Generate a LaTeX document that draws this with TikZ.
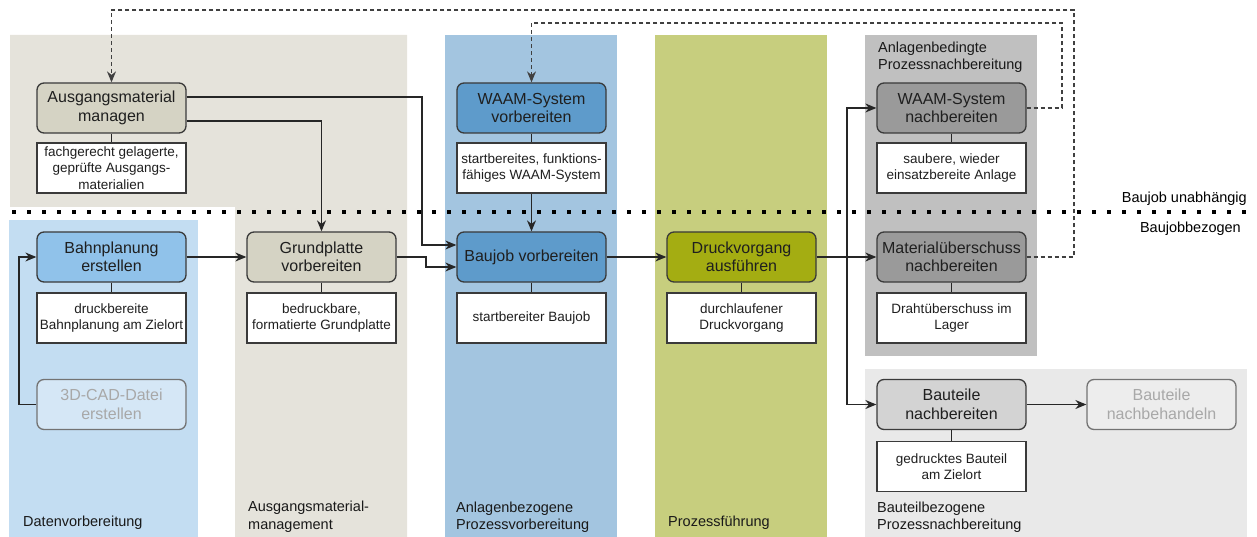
\documentclass[tikz,border=0pt]{standalone}
\usepackage{fontspec}
\setmainfont{Liberation Sans}
\usetikzlibrary{arrows.meta}
\definecolor{laneBeige}{HTML}{E5E3DB}
\definecolor{laneDaten}{HTML}{C3DDF2}
\definecolor{laneAnlage}{HTML}{A3C5E0}
\definecolor{laneGreen}{HTML}{C7CE7E}
\definecolor{laneGray}{HTML}{C0C0C0}
\definecolor{laneLight}{HTML}{E9E9E9}
\definecolor{boxBeige}{HTML}{D5D3C4}
\definecolor{boxLightBlue}{HTML}{90C2EA}
\definecolor{boxPaleBlue}{HTML}{D5E7F6}
\definecolor{boxBlue}{HTML}{5E9BCB}
\definecolor{boxOlive}{HTML}{A4AD12}
\definecolor{boxGray}{HTML}{9A9A9A}
\definecolor{boxLightGray}{HTML}{D3D3D3}
\definecolor{boxPale}{HTML}{EDEDED}
\definecolor{lineCol}{HTML}{262626}
\definecolor{fadedText}{HTML}{A8A8A8}
\definecolor{borderCol}{HTML}{3A3A3A}
\begin{document}
\begin{tikzpicture}[x=1pt,y=-1pt,
  mainbox/.style={draw=borderCol, line width=1.3pt, rounded corners=7pt,
    minimum width=149pt, minimum height=50pt, inner sep=1pt, align=center,
    font=\fontsize{16}{18.5}\selectfont, text=black!88},
  fadedbox/.style={mainbox, draw=black!55, text=fadedText},
  resbox/.style={draw=borderCol, line width=1.3pt, fill=white,
    minimum width=149pt, minimum height=50pt, inner sep=2pt, align=center,
    font=\fontsize{13.5}{16.5}\selectfont, text=black!88},
  lanelabel/.style={anchor=west, align=left, inner sep=0pt,
    font=\fontsize{14.5}{17.5}\selectfont, text=black!90},
  conn/.style={draw=lineCol, line width=1.2pt, -{Stealth[length=11pt,width=9pt]}},
  plainconn/.style={draw=lineCol, line width=1.2pt},
  fb/.style={draw=black!75, line width=1.2pt, dash pattern=on 4pt off 3pt, -{Stealth[length=11pt,width=9pt]}},
  sep/.style={draw=black, line width=3.6pt, dash pattern=on 3.6pt off 11.4pt}
]
\useasboundingbox (0,0) rectangle (1257,537);

% lanes
\fill[laneBeige] (10,35) -- (407,35) -- (407,537) -- (235,537) -- (235,207) -- (10,207) -- cycle;
\fill[laneDaten] (9,220) rectangle (198,537);
\fill[laneAnlage] (445,35) rectangle (617,537);
\fill[laneGreen] (655,35) rectangle (827,537);
\fill[laneGray] (865,35) rectangle (1037,356);
\fill[laneLight] (865,369) rectangle (1247,537);

% separator
\coordinate (sepL) at (12,212);
\coordinate (sepR) at (1250,212);
\draw[sep] (sepL) -- (sepR);
\node[anchor=east, inner sep=0pt, font=\fontsize{14.5}{17.5}\selectfont] (lbU) at (1247,199) {Baujob unabhängig};
\node[anchor=east, inner sep=0pt, font=\fontsize{14.5}{17.5}\selectfont] (lbB) at (1241,229) {Baujobbezogen};

% lane labels
\node[lanelabel] (l1) at (23,523) {Datenvorbereitung};
\node[lanelabel] (l2) at (248,516.5) {Ausgangsmaterial-\\management};
\node[lanelabel] (l3) at (456,517) {Anlagenbezogene\\Prozessvorbereitung};
\node[lanelabel] (l4) at (668,523) {Prozessführung};
\node[lanelabel] (l5) at (877,517) {Bauteilbezogene\\Prozessnachbereitung};
\node[lanelabel] (l6) at (878,57.5) {Anlagenbedingte\\Prozessnachbereitung};

% main boxes
\node[mainbox, fill=boxBeige] (am) at (111.5,108) {Ausgangsmaterial\\managen};
\node[resbox] (amr) at (111.5,168) {fachgerecht gelagerte,\\geprüfte Ausgangs-\\materialien};
\node[mainbox, fill=boxBlue] (wv) at (531.5,108) {WAAM-System\\vorbereiten};
\node[resbox] (wvr) at (531.5,168) {startbereites, funktions-\\fähiges WAAM-System};
\node[mainbox, fill=boxGray] (wn) at (951.5,108) {WAAM-System\\nachbereiten};
\node[resbox] (wnr) at (951.5,168) {saubere, wieder\\einsatzbereite Anlage};

\node[mainbox, fill=boxLightBlue] (bp) at (111.5,257) {Bahnplanung\\erstellen};
\node[resbox] (bpr) at (111.5,318) {druckbereite\\Bahnplanung am Zielort};
\node[fadedbox, fill=boxPaleBlue] (cad) at (111.5,404.5) {3D-CAD-Datei\\erstellen};
\node[mainbox, fill=boxBeige] (gp) at (321.5,257) {Grundplatte\\vorbereiten};
\node[resbox] (gpr) at (321.5,318) {bedruckbare,\\formatierte Grundplatte};
\node[mainbox, fill=boxBlue] (bj) at (531.5,257) {Baujob vorbereiten};
\node[resbox] (bjr) at (531.5,318) {startbereiter Baujob};
\node[mainbox, fill=boxOlive] (dv) at (741.5,257) {Druckvorgang\\ausführen};
\node[resbox] (dvr) at (741.5,318) {durchlaufener\\Druckvorgang};
\node[mainbox, fill=boxGray] (mu) at (951.5,257) {Materialüberschuss\\nachbereiten};
\node[resbox] (mur) at (951.5,318) {Drahtüberschuss im\\Lager};
\node[mainbox, fill=boxLightGray] (bt) at (951.5,404.5) {Bauteile\\nachbereiten};
\node[resbox] (btr) at (951.5,466.5) {gedrucktes Bauteil\\am Zielort};
\node[fadedbox, fill=boxPale] (bb) at (1161.5,404.5) {Bauteile\\nachbehandeln};

% result links
\foreach \a/\b in {am/amr, wv/wvr, wn/wnr, bp/bpr, gp/gpr, bj/bjr, dv/dvr, mu/mur, bt/btr}
  \draw[plainconn] (\a.south) -- (\b.north);

% connectors
\draw[conn] ([yshift=11pt]am.east) -- (422,97) -- (422,245) -- ([yshift=12pt]bj.west);
\draw[conn] ([yshift=-13pt]am.east) -| (gp.north);
\draw[conn] (gp.east) -- (426,257) -- (426,267) -- ([yshift=-10pt]bj.west);
\draw[conn] (wvr.south) -- (bj.north);
\draw[conn] (bp.east) -- (gp.west);
\draw[conn] (cad.west) -- (19,404.5) -- (19,257) -- (bp.west);
\draw[conn] (bj.east) -- (dv.west);
\coordinate (split) at (847,257);
\draw[conn] (dv.east) -- (mu.west);
\draw[conn] (split) |- (wn.west);
\draw[conn] (split) |- (bt.west);
\draw[conn] (bt.east) -- (bb.west);

% feedback (dashed)
\draw[fb] (wn.east) -- (1062,108) -- (1062,23) -| (wv.north);
\draw[fb] (mu.east) -- (1074,257) -- (1074,10) -| (am.north);
\end{tikzpicture}
\end{document}
